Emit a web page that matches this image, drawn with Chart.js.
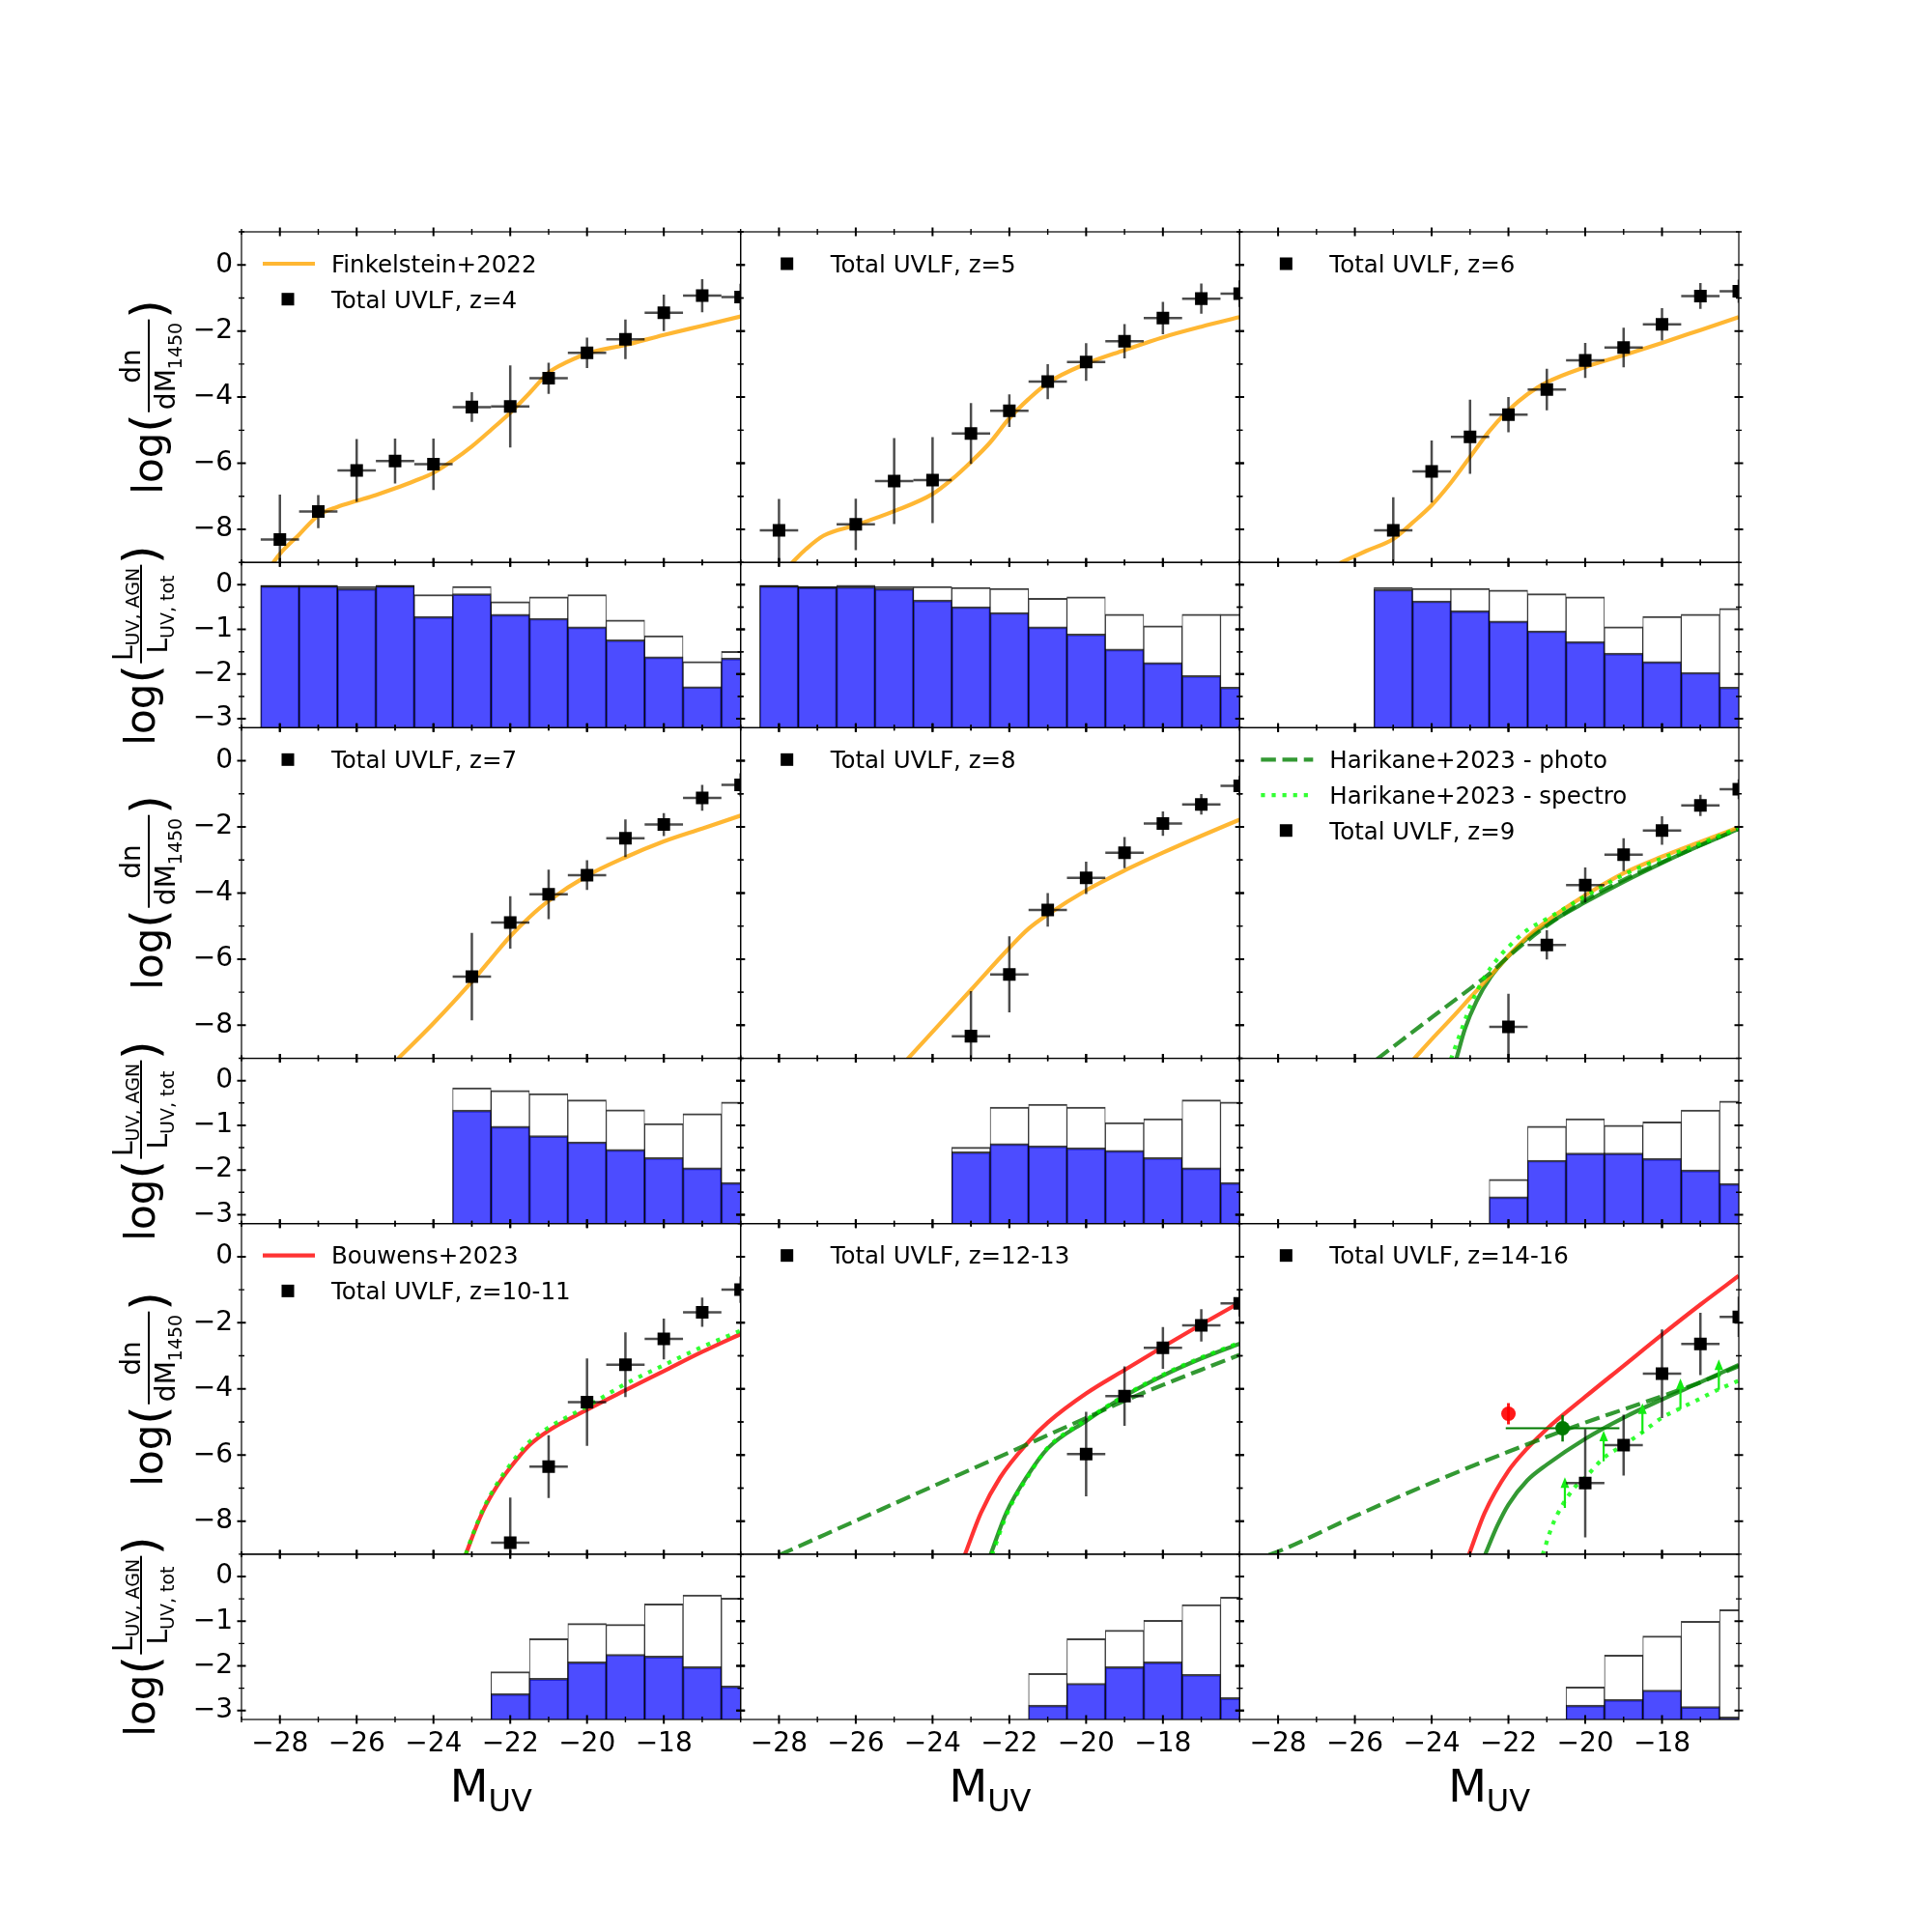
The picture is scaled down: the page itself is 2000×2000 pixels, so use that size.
<!DOCTYPE html>
<html>
<head>
<meta charset="utf-8">
<script src="https://cdn.jsdelivr.net/npm/chart.js@4.4.1/dist/chart.umd.min.js"></script>
<style>
html, body { margin: 0; padding: 0; background: #fff; }
#fig { position: relative; width: 2000px; height: 2000px; overflow: hidden; font-family: 'DejaVu Sans', sans-serif; color: #000; }
#fig canvas { position: absolute; }
.lab { position: absolute; white-space: nowrap; line-height: 1; }
.xlab { font-size: 46px; transform: translateX(-50%); }
.xlab sub { font-size: 32px; line-height: 0; vertical-align: -0.3em; }
.ylab { font-size: 42px; display: flex; align-items: center; transform: translate(-50%, -50%) rotate(-90deg); }
.par { font-size: 50px; }
.frac { display: inline-flex; flex-direction: column; align-items: center; font-size: 28px; margin: 0 1px; }
.frac .num { border-bottom: 2px solid #000; padding: 0 3px 3px; width: 100%; text-align: center; box-sizing: border-box; }
.frac .den { padding: 3px 3px 0; }
.frac sub { font-size: 19px; line-height: 0; vertical-align: -0.35em; }
</style>
</head>
<body>
<div id="fig"></div>
<script>
// shared axes
const X_TICKS = [-28, -26, -24, -22, -20, -18];
const X_MINOR = [-29, -27, -25, -23, -21, -19, -17];
const Y_TICKS = [-8, -6, -4, -2, 0];
const Y_MINOR = [-9, -7, -5, -3, -1, 1];
const R_TICKS = [-3, -2, -1, 0];
const R_MINOR = [-2.5, -1.5, -0.5];

const M_BINS = [-28, -27, -26, -25, -24, -23, -22, -21, -20, -19, -18, -17, -16];

// z = 4
const z4_M = M_BINS;
const z4_phi = [-8.31, -7.46, -6.22, -5.93, -6.03, -4.30, -4.28, -3.43, -2.66, -2.25, -1.45, -0.93, -0.97];
const z4_err = [1.36, 0.50, 0.95, 0.68, 0.78, 0.45, 1.24, 0.47, 0.46, 0.60, 0.55, 0.50, 0.40];
const z4_finkM = [-28.2, -28, -27.5, -27, -26.5, -26, -25.5, -25, -24.5, -24, -23.5, -23, -22.5, -22, -21.5, -21, -20.5, -20, -19, -18, -17, -16];
const z4_finkPhi = [-9.05, -8.74, -8.16, -7.58, -7.32, -7.14, -6.96, -6.76, -6.54, -6.29, -5.92, -5.49, -4.99, -4.47, -3.88, -3.26, -2.93, -2.68, -2.42, -2.12, -1.84, -1.56];
const z4_fracHigh = [-0.01, -0.01, -0.04, -0.01, -0.22, -0.04, -0.38, -0.27, -0.22, -0.79, -1.14, -1.72, -1.49];
const z4_fracLow = [-0.02, -0.02, -0.08, -0.02, -0.71, -0.20, -0.66, -0.75, -0.94, -1.23, -1.61, -2.28, -1.64];

// z = 5
const z5_M = M_BINS;
const z5_phi = [-8.03, null, -7.85, -6.54, -6.51, -5.10, -4.41, -3.53, -2.94, -2.31, -1.61, -1.02, -0.87];
const z5_err = [0.95, null, 0.78, 1.30, 1.30, 0.92, 0.49, 0.53, 0.57, 0.52, 0.49, 0.46, 0.40];
const z5_finkM = [-27.67, -27.3, -26.84, -26, -25, -24, -23.5, -23, -22.5, -22, -21.5, -21, -20, -19, -18, -17, -16];
const z5_finkPhi = [-9.02, -8.6, -8.19, -7.87, -7.45, -6.93, -6.49, -5.96, -5.37, -4.64, -4.06, -3.57, -2.99, -2.58, -2.19, -1.87, -1.58];
const z5_fracHigh = [-0.01, -0.04, -0.01, -0.04, -0.04, -0.06, -0.08, -0.30, -0.27, -0.66, -0.92, -0.66, -0.66];
const z5_fracLow = [-0.02, -0.05, -0.04, -0.08, -0.34, -0.49, -0.62, -0.94, -1.10, -1.44, -1.74, -2.03, -2.29];

// z = 6
const z6_M = [-25, -24, -23, -22, -21, -20, -19, -18, -17, -16];
const z6_phi = [-8.03, -6.25, -5.20, -4.53, -3.77, -2.89, -2.50, -1.80, -0.94, -0.80];
const z6_err = [1.00, 0.94, 1.12, 0.53, 0.63, 0.53, 0.60, 0.49, 0.39, 0.35];
const z6_finkM = [-26.39, -25.7, -25, -24.5, -24, -23.5, -23, -22.5, -22, -21.5, -21, -20, -19, -18, -17, -16];
const z6_finkPhi = [-9.02, -8.65, -8.29, -7.8, -7.27, -6.59, -5.81, -5.03, -4.40, -3.91, -3.55, -3.09, -2.73, -2.36, -1.97, -1.58];
const z6_fracHigh = [-0.06, -0.08, -0.08, -0.12, -0.20, -0.27, -0.94, -0.71, -0.66, -0.53];
const z6_fracLow = [-0.10, -0.36, -0.58, -0.81, -1.03, -1.27, -1.53, -1.72, -1.96, -2.29];

// z = 7
const z7_M = [-23, -22, -21, -20, -19, -18, -17, -16];
const z7_phi = [-6.53, -4.89, -4.04, -3.46, -2.34, -1.93, -1.12, -0.73];
const z7_err = [1.32, 0.79, 0.75, 0.45, 0.57, 0.35, 0.39, 0.35];
const z7_finkM = [-24.93, -24, -23, -22.5, -22, -21.5, -21, -20, -19, -18, -17, -16];
const z7_finkPhi = [-9.02, -7.94, -6.68, -5.99, -5.31, -4.73, -4.24, -3.48, -2.92, -2.44, -2.05, -1.66];
const z7_fracHigh = [-0.16, -0.22, -0.29, -0.43, -0.65, -0.96, -0.74, -0.48];
const z7_fracLow = [-0.66, -1.02, -1.23, -1.37, -1.54, -1.72, -1.95, -2.28];

// z = 8
const z8_M = [-23, -22, -21, -20, -19, -18, -17, -16];
const z8_phi = [-8.33, -6.46, -4.51, -3.54, -2.78, -1.90, -1.32, -0.76];
const z8_err = [1.36, 1.15, 0.51, 0.49, 0.47, 0.37, 0.31, 0.30];
const z8_finkM = [-24.65, -24, -23, -22, -21.5, -21, -20, -19, -18, -17, -16];
const z8_finkPhi = [-9.02, -8.2, -6.93, -5.66, -5.08, -4.65, -3.92, -3.32, -2.78, -2.27, -1.78];
const z8_fracHigh = [-1.49, -0.59, -0.53, -0.59, -0.94, -0.85, -0.43, -0.48];
const z8_fracLow = [-1.59, -1.41, -1.46, -1.50, -1.56, -1.72, -1.95, -2.28];

// z = 9
const z9_M = [-22, -21, -20, -19, -18, -17, -16];
const z9_phi = [-8.05, -5.57, -3.76, -2.84, -2.11, -1.35, -0.86];
const z9_err = [1.00, 0.44, 0.53, 0.50, 0.43, 0.32, 0.30];
const z9_finkM = [-24.47, -23.97, -23.46, -22.96, -22.46, -22, -21.51, -21, -20, -19, -18, -17, -16];
const z9_finkPhi = [-9.03, -8.39, -7.76, -7.12, -6.49, -5.90, -5.33, -4.85, -4.07, -3.40, -2.90, -2.45, -2.01];
const z9_photoM = [-25.43, -23.97, -22.96, -22.46, -22, -21, -20, -19, -18, -17, -16];
const z9_photoPhi = [-9.03, -7.74, -6.86, -6.41, -5.92, -4.99, -4.22, -3.60, -3.07, -2.55, -2.06];
const z9_specM = [-23.5, -23.21, -22.96, -22.62, -22.29, -22, -21.51, -21, -20, -19, -18, -17, -16];
const z9_specPhi = [-9.03, -8.10, -7.32, -6.54, -6.0, -5.63, -5.12, -4.78, -4.10, -3.45, -2.95, -2.50, -2.03];
const z9_dplM = [-23.36, -23.13, -22.83, -22.46, -22, -21.51, -21, -20, -19, -18, -17, -16];
const z9_dplPhi = [-9.03, -8.10, -7.27, -6.54, -5.91, -5.37, -4.95, -4.28, -3.66, -3.09, -2.56, -2.06];
const z9_fracHigh = [-2.21, -1.02, -0.85, -1.00, -0.92, -0.66, -0.46];
const z9_fracLow = [-2.60, -1.78, -1.62, -1.62, -1.74, -2.00, -2.30];

// z = 10-11
const z10_M = [-22, -21, -20, -19, -18, -17, -16];
const z10_phi = [-8.65, -6.35, -4.40, -3.27, -2.49, -1.68, -1.00];
const z10_err = [1.36, 0.95, 1.32, 0.98, 0.62, 0.44, 0.40];
const z10_bouwM = [-23.16, -22.94, -22.69, -22.36, -22, -21.5, -21, -20, -19, -18, -17, -16];
const z10_bouwPhi = [-9.02, -8.33, -7.65, -6.97, -6.38, -5.70, -5.26, -4.63, -4.04, -3.46, -2.88, -2.34];
const z10_specM = [-23.16, -22.94, -22.69, -22.36, -22, -21.5, -21, -20, -19, -18, -17, -16];
const z10_specPhi = [-9.0, -8.3, -7.6, -6.9, -6.29, -5.6, -5.17, -4.53, -3.85, -3.28, -2.73, -2.24];
const z10_fracHigh = [-2.13, -1.39, -1.05, -1.07, -0.61, -0.41, -0.48];
const z10_fracLow = [-2.62, -2.28, -1.91, -1.74, -1.78, -2.02, -2.45];

// z = 12-13
const z12_M = [-20, -19, -18, -17, -16];
const z12_phi = [-5.97, -4.22, -2.76, -2.08, -1.41];
const z12_err = [1.28, 0.90, 0.63, 0.49, 0.40];
const z12_bouwM = [-23.16, -22.74, -22.24, -21.5, -21, -20, -19, -18, -17, -16];
const z12_bouwPhi = [-9.02, -7.75, -6.68, -5.60, -5.02, -4.14, -3.43, -2.73, -2.05, -1.39];
const z12_dplM = [-22.49, -22.08, -21.5, -21, -20, -19, -18, -17, -16];
const z12_dplPhi = [-9.02, -7.75, -6.58, -5.80, -4.97, -4.22, -3.60, -3.08, -2.63];
const z12_specM = [-22.45, -22.05, -21.48, -21, -20, -19, -18, -17, -16];
const z12_specPhi = [-9.02, -7.75, -6.58, -5.78, -4.94, -4.20, -3.57, -3.05, -2.60];
const z12_photoM = [-28, -26, -24, -22, -21, -20, -19, -18, -17, -16];
const z12_photoPhi = [-9.03, -7.99, -6.95, -5.92, -5.40, -4.88, -4.36, -3.88, -3.42, -2.97];
const z12_fracHigh = [-2.17, -1.39, -1.20, -0.98, -0.63, -0.46];
const z12_fracLow = [-2.88, -2.39, -2.02, -1.91, -2.19, -2.71];

// z = 14-16
const z14_M = [-20, -19, -18, -17, -16];
const z14_phi = [-6.85, -5.70, -3.54, -2.64, -1.82];
const z14_err = [1.64, 0.92, 1.34, 0.94, 0.61];
const z14_bouwM = [-23.03, -22.62, -22, -21.51, -21, -20, -19, -18, -17, -16];
const z14_bouwPhi = [-9.02, -7.75, -6.48, -5.80, -5.21, -4.24, -3.30, -2.36, -1.45, -0.58];
const z14_dplM = [-22.61, -22.29, -22, -21.51, -21, -20, -19, -18, -17, -16];
const z14_dplPhi = [-9.02, -8.14, -7.50, -6.77, -6.29, -5.51, -4.87, -4.32, -3.80, -3.27];
const z14_photoM = [-28.24, -28, -26, -24, -22, -20, -19, -18, -17, -16];
const z14_photoPhi = [-9.02, -8.92, -7.85, -6.84, -5.90, -5.02, -4.62, -4.22, -3.80, -3.31];
const z14_specM = [-21.11, -20.86, -20.61, -20.27, -20, -19.52, -19, -18.51, -18, -17.51, -17, -16.5, -16];
const z14_specPhi = [-9.02, -8.14, -7.55, -6.97, -6.68, -6.09, -5.70, -5.31, -4.87, -4.58, -4.29, -4.0, -3.75];
const z14_limM = [-20.53, -19.52, -18.51, -17.52, -16.52];
const z14_limPhi = [-7.60, -6.19, -5.36, -4.61, -4.03];
const z14_redM = [-22.0];
const z14_redPhi = [-4.75];
const z14_redErr = [0.32];
const z14_greenM = [-20.59];
const z14_greenPhi = [-5.19];
const z14_greenErrX = [1.48];
const z14_greenErrY = [0.40];
const z14_fracHigh = [-2.47, -1.76, -1.33, -1.00, -0.74];
const z14_fracLow = [-2.88, -2.75, -2.54, -2.91, -3.14];

const STYLE = {
  fink:  { color: 'rgba(255,165,0,0.8)', dash: [], order: 5, label: 'Finkelstein+2022' },
  bouw:  { color: 'rgba(255,0,0,0.8)', dash: [], order: 5, label: 'Bouwens+2023' },
  photo: { color: 'rgba(0,128,0,0.8)', dash: [15.5, 6.7], order: 4, label: 'Harikane+2023 - photo' },
  spec:  { color: 'rgba(0,255,0,0.8)', dash: [4.2, 6.9], order: 3, label: 'Harikane+2023 - spectro' },
  dpl:   { color: 'rgba(0,128,0,0.8)', dash: [], order: 6, label: '' }
};

const panels = [
  { z: '4', M: z4_M, phi: z4_phi, err: z4_err, bins: z4_M, hi: z4_fracHigh, lo: z4_fracLow,
    curves: [['fink', z4_finkM, z4_finkPhi]], legend: ['fink'] },
  { z: '5', M: z5_M, phi: z5_phi, err: z5_err, bins: z5_M, hi: z5_fracHigh, lo: z5_fracLow,
    curves: [['fink', z5_finkM, z5_finkPhi]], legend: [] },
  { z: '6', M: z6_M, phi: z6_phi, err: z6_err, bins: z6_M, hi: z6_fracHigh, lo: z6_fracLow,
    curves: [['fink', z6_finkM, z6_finkPhi]], legend: [] },
  { z: '7', M: z7_M, phi: z7_phi, err: z7_err, bins: z7_M, hi: z7_fracHigh, lo: z7_fracLow,
    curves: [['fink', z7_finkM, z7_finkPhi]], legend: [] },
  { z: '8', M: z8_M, phi: z8_phi, err: z8_err, bins: z8_M, hi: z8_fracHigh, lo: z8_fracLow,
    curves: [['fink', z8_finkM, z8_finkPhi]], legend: [] },
  { z: '9', M: z9_M, phi: z9_phi, err: z9_err, bins: z9_M, hi: z9_fracHigh, lo: z9_fracLow,
    curves: [['fink', z9_finkM, z9_finkPhi], ['photo', z9_photoM, z9_photoPhi], ['spec', z9_specM, z9_specPhi], ['dpl', z9_dplM, z9_dplPhi]],
    legend: ['photo', 'spec'] },
  { z: '10-11', M: z10_M, phi: z10_phi, err: z10_err, bins: z10_M, hi: z10_fracHigh, lo: z10_fracLow,
    curves: [['bouw', z10_bouwM, z10_bouwPhi], ['spec', z10_specM, z10_specPhi]], legend: ['bouw'] },
  { z: '12-13', M: z12_M, phi: z12_phi, err: z12_err, bins: [-21, -20, -19, -18, -17, -16], hi: z12_fracHigh, lo: z12_fracLow,
    curves: [['bouw', z12_bouwM, z12_bouwPhi], ['dpl', z12_dplM, z12_dplPhi], ['spec', z12_specM, z12_specPhi], ['photo', z12_photoM, z12_photoPhi]],
    legend: [] },
  { z: '14-16', M: z14_M, phi: z14_phi, err: z14_err, bins: z14_M, hi: z14_fracHigh, lo: z14_fracLow,
    curves: [['bouw', z14_bouwM, z14_bouwPhi], ['dpl', z14_dplM, z14_dplPhi], ['spec', z14_specM, z14_specPhi], ['photo', z14_photoM, z14_photoPhi]],
    legend: [], extra: true }
];

// figure geometry (matplotlib-like subplot grid)
const FIG_L = 250, FIG_R = 1800, FIG_T = 240, FIG_B = 1780;
const COL_W = (FIG_R - FIG_L) / 3;
const UNIT = (FIG_B - FIG_T) / 9;
const X_MIN = -29, X_MAX = -16;
const R_MIN = -3.2, R_MAX = 0.5;
const BAR_FLOOR = -4;
const TICK_FONT = { family: 'DejaVu Sans', size: 28 };
const fmt = v => (v < 0 ? '\u2212' + Math.abs(v) : String(v));

const framePlugin = {
  id: 'frame',
  afterDraw(chart, args, o) {
    const { ctx, chartArea: a } = chart;
    const x = chart.scales.x, y = chart.scales.y;
    ctx.save();
    ctx.strokeStyle = '#000';
    ctx.lineWidth = 1.2;
    ctx.strokeRect(a.left, a.top, a.right - a.left, a.bottom - a.top);
    const xt = (vals, len, w) => {
      ctx.lineWidth = w; ctx.beginPath();
      vals.forEach(v => {
        const p = x.getPixelForValue(v);
        ctx.moveTo(p, a.top - len); ctx.lineTo(p, a.top + len);
        ctx.moveTo(p, a.bottom - len); ctx.lineTo(p, a.bottom + len);
      });
      ctx.stroke();
    };
    const yt = (vals, len, w) => {
      ctx.lineWidth = w; ctx.beginPath();
      vals.forEach(v => {
        const p = y.getPixelForValue(v);
        ctx.moveTo(a.left - len, p); ctx.lineTo(a.left + len, p);
        ctx.moveTo(a.right - len, p); ctx.lineTo(a.right + len, p);
      });
      ctx.stroke();
    };
    xt(X_TICKS, 4.5, 2); xt(X_MINOR, 3, 1.4);
    yt(o.yMajor, 4.5, 2); yt(o.yMinor, 3, 1.4);
    ctx.restore();
  }
};

const errorPlugin = {
  id: 'errs',
  beforeDatasetDraw(chart, args) {
    const ds = chart.data.datasets[args.index];
    if (!ds.errY && !ds.arrowLen) return;
    const { ctx, chartArea: a } = chart;
    const x = chart.scales.x, y = chart.scales.y;
    ctx.save();
    ctx.beginPath(); ctx.rect(a.left, a.top, a.right - a.left, a.bottom - a.top); ctx.clip();
    ds.data.forEach((pt, i) => {
      const px = x.getPixelForValue(pt.x), py = y.getPixelForValue(pt.y);
      ctx.strokeStyle = ds.errColor; ctx.lineWidth = ds.errWidth;
      if (ds.errY) {
        ctx.beginPath();
        ctx.moveTo(px, y.getPixelForValue(pt.y + ds.errY[i]));
        ctx.lineTo(px, y.getPixelForValue(pt.y - ds.errY[i]));
        ctx.stroke();
      }
      if (ds.errX) {
        ctx.lineWidth = ds.errXWidth || ds.errWidth;
        ctx.beginPath();
        ctx.moveTo(x.getPixelForValue(pt.x - ds.errX[i]), py);
        ctx.lineTo(x.getPixelForValue(pt.x + ds.errX[i]), py);
        ctx.stroke();
      }
      if (ds.arrowLen) {
        const tip = y.getPixelForValue(pt.y + ds.arrowLen);
        ctx.beginPath(); ctx.moveTo(px, py); ctx.lineTo(px, tip); ctx.stroke();
        ctx.fillStyle = ds.errColor;
        ctx.beginPath();
        ctx.moveTo(px, tip - 6); ctx.lineTo(px - 4.5, tip + 5); ctx.lineTo(px + 4.5, tip + 5);
        ctx.closePath(); ctx.fill();
      }
    });
    ctx.restore();
  }
};

const legendPlugin = {
  id: 'uvLegend',
  afterDatasetsDraw(chart) {
    const items = chart.data.datasets.filter(d => d.legendRank !== undefined)
      .sort((p, q) => p.legendRank - q.legendRank);
    if (!items.length) return;
    const { ctx, chartArea: a } = chart;
    ctx.save();
    ctx.font = '24.5px "DejaVu Sans"';
    ctx.fillStyle = '#000';
    ctx.textBaseline = 'alphabetic';
    items.forEach((d, i) => {
      const yc = a.top + 33 + i * 36.7;
      if (d.type === 'line') {
        ctx.save();
        ctx.strokeStyle = d.borderColor; ctx.lineWidth = d.borderWidth;
        ctx.setLineDash(d.borderDash || []);
        ctx.beginPath(); ctx.moveTo(a.left + 22, yc); ctx.lineTo(a.left + 76, yc); ctx.stroke();
        ctx.restore();
      } else {
        ctx.fillRect(a.left + 48 - 6.5, yc - 6.5, 13, 13);
      }
      ctx.fillText(d.label, a.left + 93, yc + 8.8);
    });
    ctx.restore();
  }
};

Chart.register(framePlugin, errorPlugin, legendPlugin);

const fig = document.getElementById('fig');

function makeCanvas(l, t, r, b) {
  const c = document.createElement('canvas');
  c.width = r - l; c.height = b - t;
  c.style.left = l + 'px'; c.style.top = t + 'px';
  c.style.width = (r - l) + 'px'; c.style.height = (b - t) + 'px';
  fig.appendChild(c);
  return c;
}

function axisOptions(col, isBottom, pad, yMin, yMax, yMajor) {
  const leftCol = col === 0;
  return {
    x: {
      type: 'linear', min: X_MIN, max: X_MAX, offset: false, display: isBottom,
      grid: { display: false, drawTicks: false }, border: { display: false },
      ticks: { display: isBottom, autoSkip: false, maxRotation: 0, minRotation: 0, padding: 9, font: TICK_FONT, color: '#000', callback: fmt },
      afterBuildTicks: s => { s.ticks = X_TICKS.map(v => ({ value: v })); },
      afterFit: s => { s.height = isBottom ? pad.bottom : 0; }
    },
    y: {
      type: 'linear', min: yMin, max: yMax, display: leftCol,
      grid: { display: false, drawTicks: false }, border: { display: false },
      ticks: { display: leftCol, autoSkip: false, padding: 9, font: TICK_FONT, color: '#000', callback: fmt },
      afterBuildTicks: s => { s.ticks = yMajor.map(v => ({ value: v })); },
      afterFit: s => { s.width = leftCol ? pad.left : 0; }
    }
  };
}

function place(col, top, height, isBottom) {
  const pl = FIG_L + col * COL_W, pr = pl + COL_W;
  const pt = top, pb = top + height;
  const cl = Math.floor(pl - (col === 0 ? 110 : 44));
  const cr = Math.ceil(pr + 44);
  const ct = Math.floor(pt - 44);
  const cb = Math.ceil(pb + (isBottom ? 70 : 44));
  return { canvas: makeCanvas(cl, ct, cr, cb), pad: { left: pl - cl, right: cr - pr, top: pt - ct, bottom: cb - pb } };
}

function commonOptions(col, isBottom, pad, yMin, yMax, yMajor, yMinor) {
  return {
    responsive: false, animation: false, devicePixelRatio: 1, events: [],
    layout: { padding: { left: col === 0 ? 0 : pad.left, right: pad.right, top: pad.top, bottom: isBottom ? 0 : pad.bottom } },
    plugins: { legend: { display: false }, tooltip: { enabled: false }, frame: { yMajor, yMinor } },
    scales: axisOptions(col, isBottom, pad, yMin, yMax, yMajor)
  };
}

panels.forEach((p, k) => {
  const col = k % 3, row = Math.floor(k / 3);
  const mainTop = FIG_T + row * 3 * UNIT;
  const ratioTop = mainTop + 2 * UNIT;
  const isBottomRow = row === 2;

  // luminosity-function panel
  const datasets = [];
  const pts = [], errs = [], hx = [];
  p.M.forEach((m, i) => {
    if (p.phi[i] === null) return;
    pts.push({ x: m, y: p.phi[i] }); errs.push(p.err[i]); hx.push(0.5);
  });
  datasets.push({
    type: 'scatter', label: 'Total UVLF, z=' + p.z, data: pts, errY: errs, errX: hx,
    errColor: 'rgba(0,0,0,0.7)', errWidth: 2.5,
    pointStyle: 'rect', pointRadius: 9.2, pointHoverRadius: 9.2, backgroundColor: '#000', borderWidth: 0,
    clip: 0, order: 0, legendRank: 10
  });
  if (p.extra) {
    datasets.push({
      type: 'scatter', data: z14_redM.map((m, i) => ({ x: m, y: z14_redPhi[i] })), errY: z14_redErr,
      errColor: 'rgba(255,0,0,0.9)', errWidth: 3,
      pointStyle: 'circle', pointRadius: 7.5, backgroundColor: 'rgba(255,0,0,0.9)', borderWidth: 0, clip: 0, order: 1
    });
    datasets.push({
      type: 'scatter', data: z14_greenM.map((m, i) => ({ x: m, y: z14_greenPhi[i] })),
      errY: z14_greenErrY, errX: z14_greenErrX, errColor: '#007a00', errWidth: 2.5, errXWidth: 2.2,
      pointStyle: 'circle', pointRadius: 7.5, backgroundColor: '#007a00', borderWidth: 0, clip: 0, order: 1
    });
    datasets.push({
      type: 'scatter', data: z14_limM.map((m, i) => ({ x: m, y: z14_limPhi[i] })), arrowLen: 0.75,
      errColor: 'rgb(20,235,20)', errWidth: 2.2, pointRadius: 0, clip: 0, order: 2
    });
  }
  p.curves.forEach(([kind, xs, ys]) => {
    const st = STYLE[kind];
    const ds = {
      type: 'line', label: st.label, data: xs.map((m, i) => ({ x: m, y: ys[i] })),
      borderColor: st.color, borderWidth: 4.2, borderDash: st.dash, borderCapStyle: 'butt',
      pointRadius: 0, pointHoverRadius: 0, cubicInterpolationMode: 'monotone', fill: false,
      clip: 0, order: st.order
    };
    const r = p.legend.indexOf(kind);
    if (r >= 0) ds.legendRank = r;
    datasets.push(ds);
  });
  const m = place(col, mainTop, 2 * UNIT, false);
  new Chart(m.canvas, {
    type: 'scatter',
    data: { datasets },
    options: commonOptions(col, false, m.pad, -9, 1, Y_TICKS, Y_MINOR)
  });

  // AGN fraction panel
  const barStyle = {
    borderColor: 'rgba(0,0,0,0.75)', borderWidth: { top: 2, left: 1, right: 1, bottom: 1 }, borderSkipped: false,
    grouped: false, categoryPercentage: 1, barPercentage: 1, clip: 0
  };
  const r = place(col, ratioTop, UNIT, isBottomRow);
  new Chart(r.canvas, {
    type: 'bar',
    data: {
      datasets: [
        Object.assign({ data: p.bins.map((b, i) => ({ x: b, y: [BAR_FLOOR, p.lo[i]] })), backgroundColor: 'rgba(0,0,255,0.7)', order: 0 }, barStyle),
        Object.assign({ data: p.bins.map((b, i) => ({ x: b, y: [BAR_FLOOR, p.hi[i]] })), backgroundColor: '#ffffff', order: 1 }, barStyle)
      ]
    },
    options: commonOptions(col, isBottomRow, r.pad, R_MIN, R_MAX, R_TICKS, R_MINOR)
  });
});

// axis labels as text
for (let row = 0; row < 3; row++) {
  const mainC = FIG_T + row * 3 * UNIT + UNIT;
  const ratC = FIG_T + row * 3 * UNIT + 2.5 * UNIT;
  const a = document.createElement('div');
  a.className = 'lab ylab';
  a.style.left = '154px'; a.style.top = mainC + 'px';
  a.innerHTML = '<span>log</span><span class="par">(</span><span class="frac"><span class="num">dn</span><span class="den">dM<sub>1450</sub></span></span><span class="par">)</span>';
  fig.appendChild(a);
  const b = document.createElement('div');
  b.className = 'lab ylab';
  b.style.left = '146px'; b.style.top = ratC + 'px';
  b.innerHTML = '<span>log</span><span class="par">(</span><span class="frac"><span class="num">L<sub>UV, AGN</sub></span><span class="den">L<sub>UV, tot</sub></span></span><span class="par">)</span>';
  fig.appendChild(b);
}
for (let col = 0; col < 3; col++) {
  const d = document.createElement('div');
  d.className = 'lab xlab';
  d.style.left = (FIG_L + (col + 0.5) * COL_W) + 'px';
  d.style.top = '1826px';
  d.innerHTML = 'M<sub>UV</sub>';
  fig.appendChild(d);
}
</script>
</body>
</html>
